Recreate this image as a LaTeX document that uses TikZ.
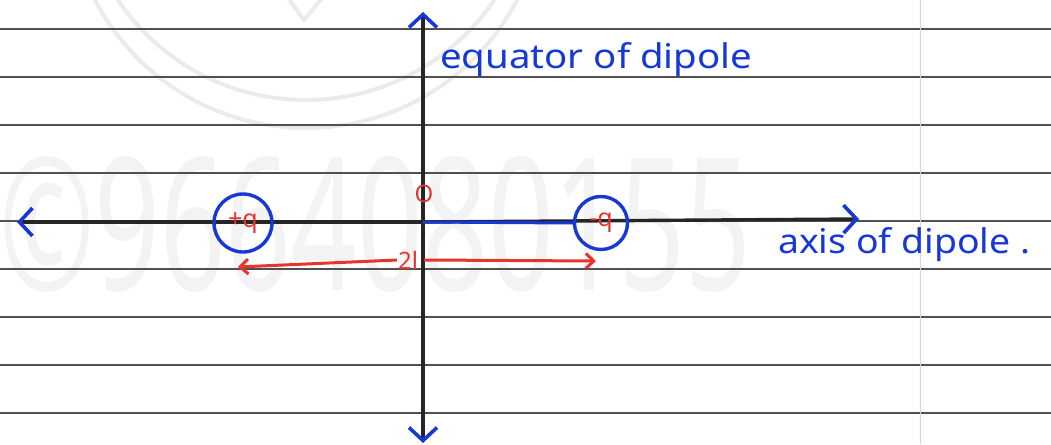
\documentclass[tikz,border=0pt]{standalone}
\usepackage{fontspec}
\setmainfont{Noto Sans}
\usetikzlibrary{arrows.meta}
\definecolor{penblue}{HTML}{1638D6}
\definecolor{penred}{HTML}{E8332E}
\definecolor{rule}{HTML}{505050}
\definecolor{margin}{HTML}{F8C8C8}
\definecolor{wmark}{HTML}{F3F3F3}
\definecolor{wline}{HTML}{EBEBEB}
\tikzset{
  ruleline/.style={draw=rule, line width=1.5pt},
  axisline/.style={draw=black!85, line width=3.4pt},
  bluetip/.style={-{Straight Barb[color=penblue,length=13pt,width=28pt,line width=3.6pt]}},
  charge/.style={circle, draw=penblue, line width=3.4pt, minimum size=55pt, inner sep=0pt, text=penred, font=\bfseries\fontsize{25}{25}\selectfont},
  redlabel/.style={text=penred, font=\fontsize{24}{24}\selectfont, inner sep=1pt},
  bluelabel/.style={text=penblue, font=\fontsize{34}{34}\selectfont, inner sep=0pt},
  redarrow/.style={draw=penred, line width=3pt, -{Straight Barb[length=8pt,width=15pt,line width=3pt]}}
}
\begin{document}
\begin{tikzpicture}[x=1pt,y=-1pt]
\useasboundingbox (0,0) rectangle (1051,444);
\fill[white] (0,0) rectangle (1051,444);
% watermark
\draw[wline, line width=4pt] (306,-110) circle[radius=238];
\draw[wline, line width=4pt] (306,-127) circle[radius=227];
\draw[wline, line width=4pt] (288,-2) -- (304,20) -- (322,-2);
\node[text=wmark, font=\bfseries\fontsize{185}{185}\selectfont, xscale=0.62, anchor=center, inner sep=0pt] (wm) at (375,224) {©9664080155};
% ruled lines
\foreach \yy in {29,77,125,173,221,269,317,365,413}
  \draw[ruleline] (0,\yy) -- (1051,\yy);
\draw[margin, line width=1pt] (920,0) -- (920,444);
% axes
\coordinate (left) at (17,222);
\coordinate (right) at (859,219);
\coordinate (top) at (423,12);
\coordinate (bottom) at (423,443);
\coordinate (origin) at (423,222);
\draw[axisline, bluetip] (origin) -- (left);
\draw[axisline, bluetip] (origin) -- (right);
\draw[axisline, bluetip] (origin) -- (top);
\draw[axisline, bluetip] (origin) -- (bottom);
% charges
\node[charge, minimum size=58pt] (pq) at (243,223) {+q};
\node[charge, minimum size=53pt] (nq) at (601,223) {-q};
\draw[penblue, line width=3pt] (origin) -- (nq.west);
% labels
\node[redlabel] (O) at (424,194) {O};
\node[redlabel] (l2) at (408,260) {2l};
\coordinate (la) at (238,267);
\coordinate (ra) at (596,261);
\draw[redarrow] (l2.west) -- (la);
\draw[redarrow] ([xshift=5pt]l2.east) -- (ra);
\node[bluelabel, anchor=base west, xscale=1.13] (eq) at (440,68) {equator of dipole};
\node[bluelabel, anchor=base west, xscale=1.1] (ax) at (778,253) {axis of dipole .};
\end{tikzpicture}
\end{document}
